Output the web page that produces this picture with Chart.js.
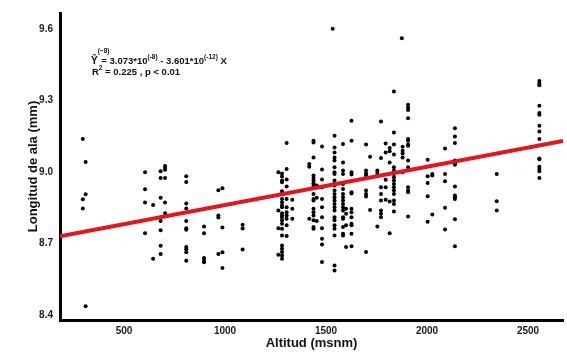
<!DOCTYPE html>
<html>
<head>
<meta charset="utf-8">
<script src="https://cdn.jsdelivr.net/npm/chart.js@4.4.0/dist/chart.umd.min.js"></script>
<style>
  html, body { margin: 0; padding: 0; background: #fff; }
</style>
</head>
<body>
<canvas id="alaChart" width="567" height="354"></canvas>
<script>
// Altitude of each sampling site (msnm)
const altitudes = [296, 310, 604, 644, 681, 703, 808, 896, 967, 987, 1087, 1264, 1282, 1305, 1333, 1417, 1438, 1454, 1480, 1533,
  1542, 1584, 1599, 1626, 1698, 1718, 1754, 1772, 1795, 1815, 1836, 1875, 1879, 1906, 2003, 2026, 2089, 2138, 2345, 2556];

// Wing length (mm) of the individuals measured at each site, same order as altitudes
const wingLengths = [
  [9.138, 8.886, 8.847],
  [9.042, 8.907, 8.437],
  [8.999, 8.928, 8.872, 8.743],
  [8.861, 8.636],
  [9.003, 8.975, 8.892, 8.809, 8.794, 8.756, 8.691, 8.656],
  [9.025, 9.017, 9.009, 8.975, 8.872, 8.827],
  [8.982, 8.958, 8.868, 8.847, 8.794, 8.764, 8.758, 8.685, 8.676, 8.663, 8.628],
  [8.771, 8.743, 8.639, 8.629, 8.621],
  [8.923, 8.817, 8.809, 8.656],
  [8.932, 8.767, 8.663, 8.597],
  [8.779, 8.763, 8.675],
  [8.999, 8.838, 8.764, 8.653],
  [8.994, 8.981, 8.964, 8.957, 8.919, 8.908, 8.887, 8.873, 8.859, 8.852, 8.827, 8.817, 8.810, 8.797, 8.783, 8.762, 8.734, 8.692, 8.678, 8.664, 8.650, 8.636],
  [9.122, 9.013, 8.968, 8.939, 8.887, 8.852, 8.831, 8.817, 8.804, 8.776, 8.731],
  [8.883, 8.846, 8.804],
  [9.034, 9.022, 8.804],
  [9.131, 9.124, 9.061, 8.985, 8.975, 8.964, 8.953, 8.943, 8.933, 8.908, 8.887, 8.880, 8.846, 8.831, 8.817, 8.797, 8.769, 8.762],
  [8.943, 8.892, 8.794],
  [9.107, 9.010, 8.968, 8.936, 8.887, 8.852, 8.810, 8.764, 8.720, 8.696, 8.622],
  [9.601],
  [9.152, 9.103, 9.082, 9.061, 9.048, 9.020, 8.999, 8.992, 8.964, 8.953, 8.943, 8.922, 8.908, 8.894, 8.880, 8.866, 8.852, 8.838, 8.810, 8.797, 8.776, 8.762, 8.734, 8.608, 8.587],
  [9.117, 9.040, 9.006, 8.992, 8.950, 8.929, 8.908, 8.894, 8.880, 8.866, 8.852, 8.838, 8.810, 8.804, 8.769, 8.741, 8.734],
  [8.846, 8.825, 8.776, 8.685],
  [9.215, 9.131, 8.999, 8.989, 8.915, 8.910, 8.846, 8.831, 8.810, 8.783, 8.776, 8.741, 8.688],
  [9.115, 9.006, 8.994, 8.985, 8.922, 8.908, 8.897, 8.664],
  [9.064, 8.841],
  [9.006, 8.996, 8.985, 8.771],
  [9.212, 9.059, 8.936, 8.908, 8.880, 8.838, 8.825, 8.810],
  [9.120, 9.082, 8.967, 8.936, 8.883],
  [9.101, 9.087, 9.040, 8.876, 8.743],
  [9.338, 9.166, 9.115, 9.073, 9.020, 9.006, 8.992, 8.978, 8.964, 8.950, 8.936, 8.922, 8.908, 8.880, 8.866, 8.834],
  [9.561],
  [9.106, 9.089, 9.078, 9.061, 8.999],
  [9.282, 9.271, 9.260, 9.225, 9.138, 9.131, 9.115, 9.110, 9.048, 9.020, 8.936, 8.922, 8.915, 8.813],
  [9.051, 8.982, 8.954, 8.898, 8.791],
  [8.992, 8.985, 8.822],
  [9.099, 8.992, 8.961, 8.850, 8.759],
  [9.183, 9.149, 9.122, 9.048, 9.036, 9.030, 8.939, 8.901, 8.894, 8.887, 8.802, 8.688],
  [8.992, 8.877, 8.838],
  [9.382, 9.371, 9.364, 9.278, 9.247, 9.240, 9.194, 9.170, 9.138, 9.057, 9.053, 9.022, 9.013, 9.003, 8.975]
];

// Fitted regression line, read at both ends of the x axis
const fitAltitudes = [183, 2673];
const fitLengths = [8.730, 9.130];

const xTicks = [500, 1000, 1500, 2000, 2500];
const yTicks = [8.4, 8.7, 9.0, 9.3, 9.6];
const xRange = [183, 2673];
const yRange = [8.379, 9.667];

const FONT = '"Liberation Sans", Arial, sans-serif';

// build point list from the site arrays
let points = [];
for (let i = 0; i < altitudes.length; i++) {
  wingLengths[i].forEach(function (v) {
    points.push({ x: altitudes[i], y: v });
  });
}
const fitLine = fitAltitudes.map((a, i) => ({ x: a, y: fitLengths[i] }));

// regression equation text in the upper left corner
const equationPlugin = {
  id: 'equation',
  afterDraw(chart) {
    const ctx = chart.ctx;
    const big = 'bold 9.5px ' + FONT;
    const small = 'bold 6.5px ' + FONT;
    ctx.save();
    ctx.fillStyle = '#111';
    ctx.textBaseline = 'alphabetic';
    let x = 91;
    function put(t, f, y) {
      ctx.font = f;
      ctx.fillText(t, x, y);
      x += ctx.measureText(t).width;
    }
    // line 1
    put('\u0176', 'bold 10px ' + FONT, 64);
    ctx.font = small;
    ctx.fillText('(\u22128)', x, 53);
    x += 1;
    put(' = 3.073*10', big, 64);
    put('(-8)', small, 59);
    put(' - 3.601*10', big, 64);
    put('(-12)', small, 59);
    put(' X', big, 64);
    // line 2
    x = 92;
    put('R', big, 75);
    put('2', small, 70);
    put(' = 0.225 , p < 0.01', big, 75);
    ctx.restore();
  }
};

const ctx1 = document.getElementById('alaChart');

new Chart(ctx1, {
  type: 'scatter',
  data: {
    datasets: [{
      label: 'Ajuste',
      data: fitLine,
      showLine: true,
      borderColor: '#e8141b',
      borderWidth: 4,
      pointRadius: 0,
      fill: false
    }, {
      label: 'Individuos',
      data: points,
      backgroundColor: '#000',
      borderWidth: 0,
      pointRadius: 2
    }]
  },
  options: {
    responsive: false,
    animation: false,
    layout: { padding: { left: 26, top: 12, right: 4, bottom: 0 } },
    plugins: {
      legend: { display: false },
      tooltip: { enabled: false }
    },
    scales: {
      x: {
        type: 'linear',
        min: xRange[0],
        max: xRange[1],
        afterBuildTicks: s => { s.ticks = xTicks.map(v => ({ value: v })); },
        afterFit: s => { s.height = 34; },
        grid: { display: false, drawTicks: false },
        border: { display: true, color: '#000', width: 3 },
        ticks: {
          padding: 5,
          color: '#1a1a1a',
          font: { family: FONT, size: 10, weight: 'bold' },
          callback: v => String(v)
        },
        title: {
          display: true,
          text: 'Altitud (msnm)',
          color: '#111',
          padding: 3,
          font: { family: FONT, size: 13, weight: 'bold' }
        }
      },
      y: {
        type: 'linear',
        min: yRange[0],
        max: yRange[1],
        afterBuildTicks: s => { s.ticks = yTicks.map(v => ({ value: v })); },
        afterFit: s => { s.width = 34; },
        grid: { display: false, drawTicks: false },
        border: { display: true, color: '#000', width: 3 },
        ticks: {
          padding: 7,
          color: '#1a1a1a',
          font: { family: FONT, size: 10, weight: 'bold' },
          callback: v => v.toFixed(1)
        },
        title: {
          display: true,
          text: 'Longitud de ala (mm)',
          color: '#111',
          padding: 0,
          font: { family: FONT, size: 13, weight: 'bold' }
        }
      }
    }
  },
  plugins: [equationPlugin]
});
</script>
</body>
</html>
